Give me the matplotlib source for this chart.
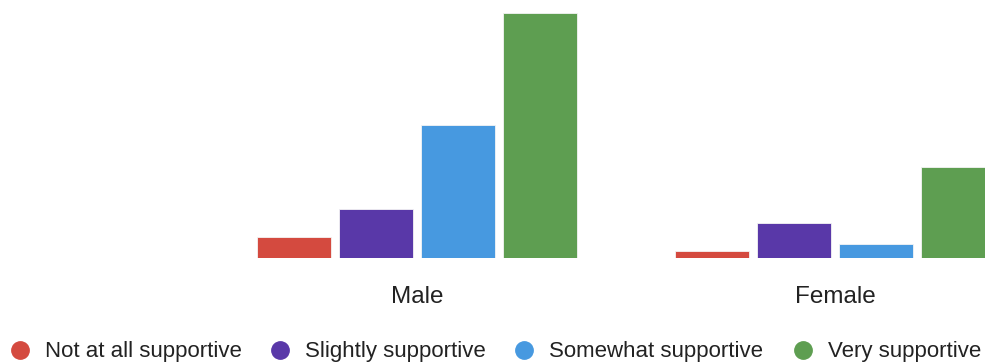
import numpy as np
import matplotlib
matplotlib.use('Agg')
import matplotlib.pyplot as plt

plt.rcParams['font.family'] = ['Liberation Sans', 'DejaVu Sans']

# Data (counts per answer)
groups = ['Male', 'Female']
answers = ['Not at all supportive', 'Slightly supportive', 'Somewhat supportive', 'Very supportive']
counts = {
    'Not at all supportive': [3, 1],
    'Slightly supportive': [7, 5],
    'Somewhat supportive': [19, 2],
    'Very supportive': [35, 13],
}
colors = ['#d44a3f', '#5938a8', '#4799e0', '#5e9e51']

W, H = 985, 362
fig = plt.figure(figsize=(W / 100, H / 100), dpi=100)

# main axes: baseline at y=258px, tallest bar top at ~13px
ax = fig.add_axes([0, (H - 258.3) / H, 1, 245 / H])
step = 82 / 418
width = 74 / 418
x = np.arange(len(groups))
for i, (ans, col) in enumerate(zip(answers, colors)):
    offs = (i - 1.5) * step
    ax.bar(x + offs, counts[ans], width=width, color=col,
           edgecolor='#f4f4f4', linewidth=0.6)

ax.set_xlim(-417 / 418, 1 + 150 / 418)
ax.set_ylim(0, 35)
ax.axis('off')

# group labels, baseline ~45px under the bars
for xi, g in zip(x, groups):
    ax.text(xi, -45 / 7, g, ha='center', va='baseline',
            fontsize=17.5, color='#222222')

# legend row along the bottom
lax = fig.add_axes([0, 0, 1, 1])
lax.set_xlim(0, W)
lax.set_ylim(H, 0)
lax.axis('off')
marker_x = [20, 280, 524, 803]
for mx, ans, col in zip(marker_x, answers, colors):
    lax.plot(mx, 350, 'o', color=col, markersize=12.5)
    lax.text(mx + 25, 357.3, ans, ha='left', va='baseline',
             fontsize=16, color='#222222')

plt.savefig('out.png', dpi=100)
